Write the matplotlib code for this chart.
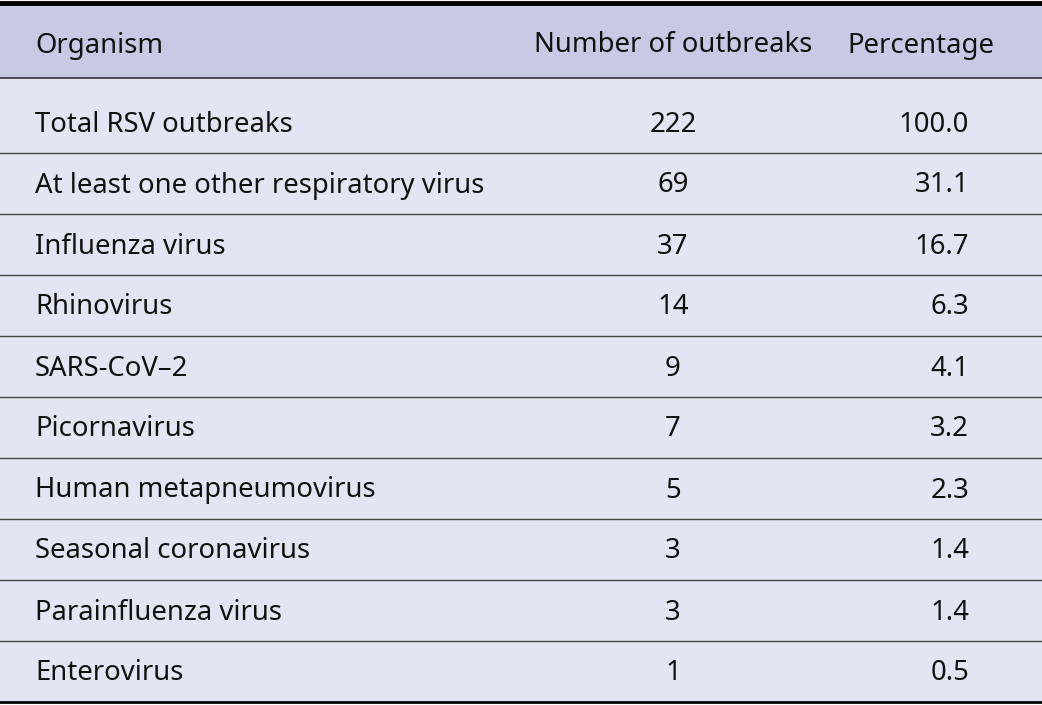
import matplotlib
matplotlib.use("Agg")
import matplotlib.pyplot as plt

headers = ["Organism", "Number of outbreaks", "Percentage"]
organisms = ["Total RSV outbreaks", "At least one other respiratory virus", "Influenza virus",
             "Rhinovirus", "SARS-CoV\u20132", "Picornavirus", "Human metapneumovirus",
             "Seasonal coronavirus", "Parainfluenza virus", "Enterovirus"]
counts = ["222", "69", "37", "14", "9", "7", "5", "3", "3", "1"]
percents = ["100.0", "31.1", "16.7", "6.3", "4.1", "3.2", "2.3", "1.4", "1.4", "0.5"]

W, H = 1042, 705
fig = plt.figure(figsize=(W/100, H/100), dpi=100)
ax = fig.add_axes([0, 0, 1, 1])
ax.set_xlim(0, W); ax.set_ylim(H, 0); ax.axis("off")
plt.rcParams['font.family'] = ['Noto Sans', 'DejaVu Sans']
fs = 19.8
txt = "#111111"
dy = 2.5

ax.add_patch(plt.Rectangle((0, 4), W, 74, color="#c9c9e6", lw=0))
ax.add_patch(plt.Rectangle((0, 78), W, 624, color="#e4e4f2", lw=0))
ax.plot([0, W], [2.5, 2.5], color="black", lw=3.5)
ax.plot([0, W], [78, 78], color="#333333", lw=1.2)
ax.plot([0, W], [702, 702], color="black", lw=2)

ax.text(35, 43 + dy, headers[0], fontsize=fs, va="center", ha="left", color=txt)
ax.text(673, 43 + dy, headers[1], fontsize=fs, va="center", ha="center", color=txt)
ax.text(921, 43 + dy, headers[2], fontsize=fs, va="center", ha="center", color=txt)

centers = [122 + 61*i for i in range(len(organisms))]
for i, (o, c, p) in enumerate(zip(organisms, counts, percents)):
    y = centers[i]
    ax.text(35, y + dy, o, fontsize=fs, va="center", ha="left", color=txt)
    ax.text(673, y + dy, c, fontsize=fs, va="center", ha="center", color=txt)
    ax.text(969, y + dy, p, fontsize=fs, va="center", ha="right", color=txt)
    if i < len(organisms) - 1:
        ax.plot([0, W], [y + 30.5, y + 30.5], color="#444444", lw=1)

fig.savefig("out.png", dpi=100)
